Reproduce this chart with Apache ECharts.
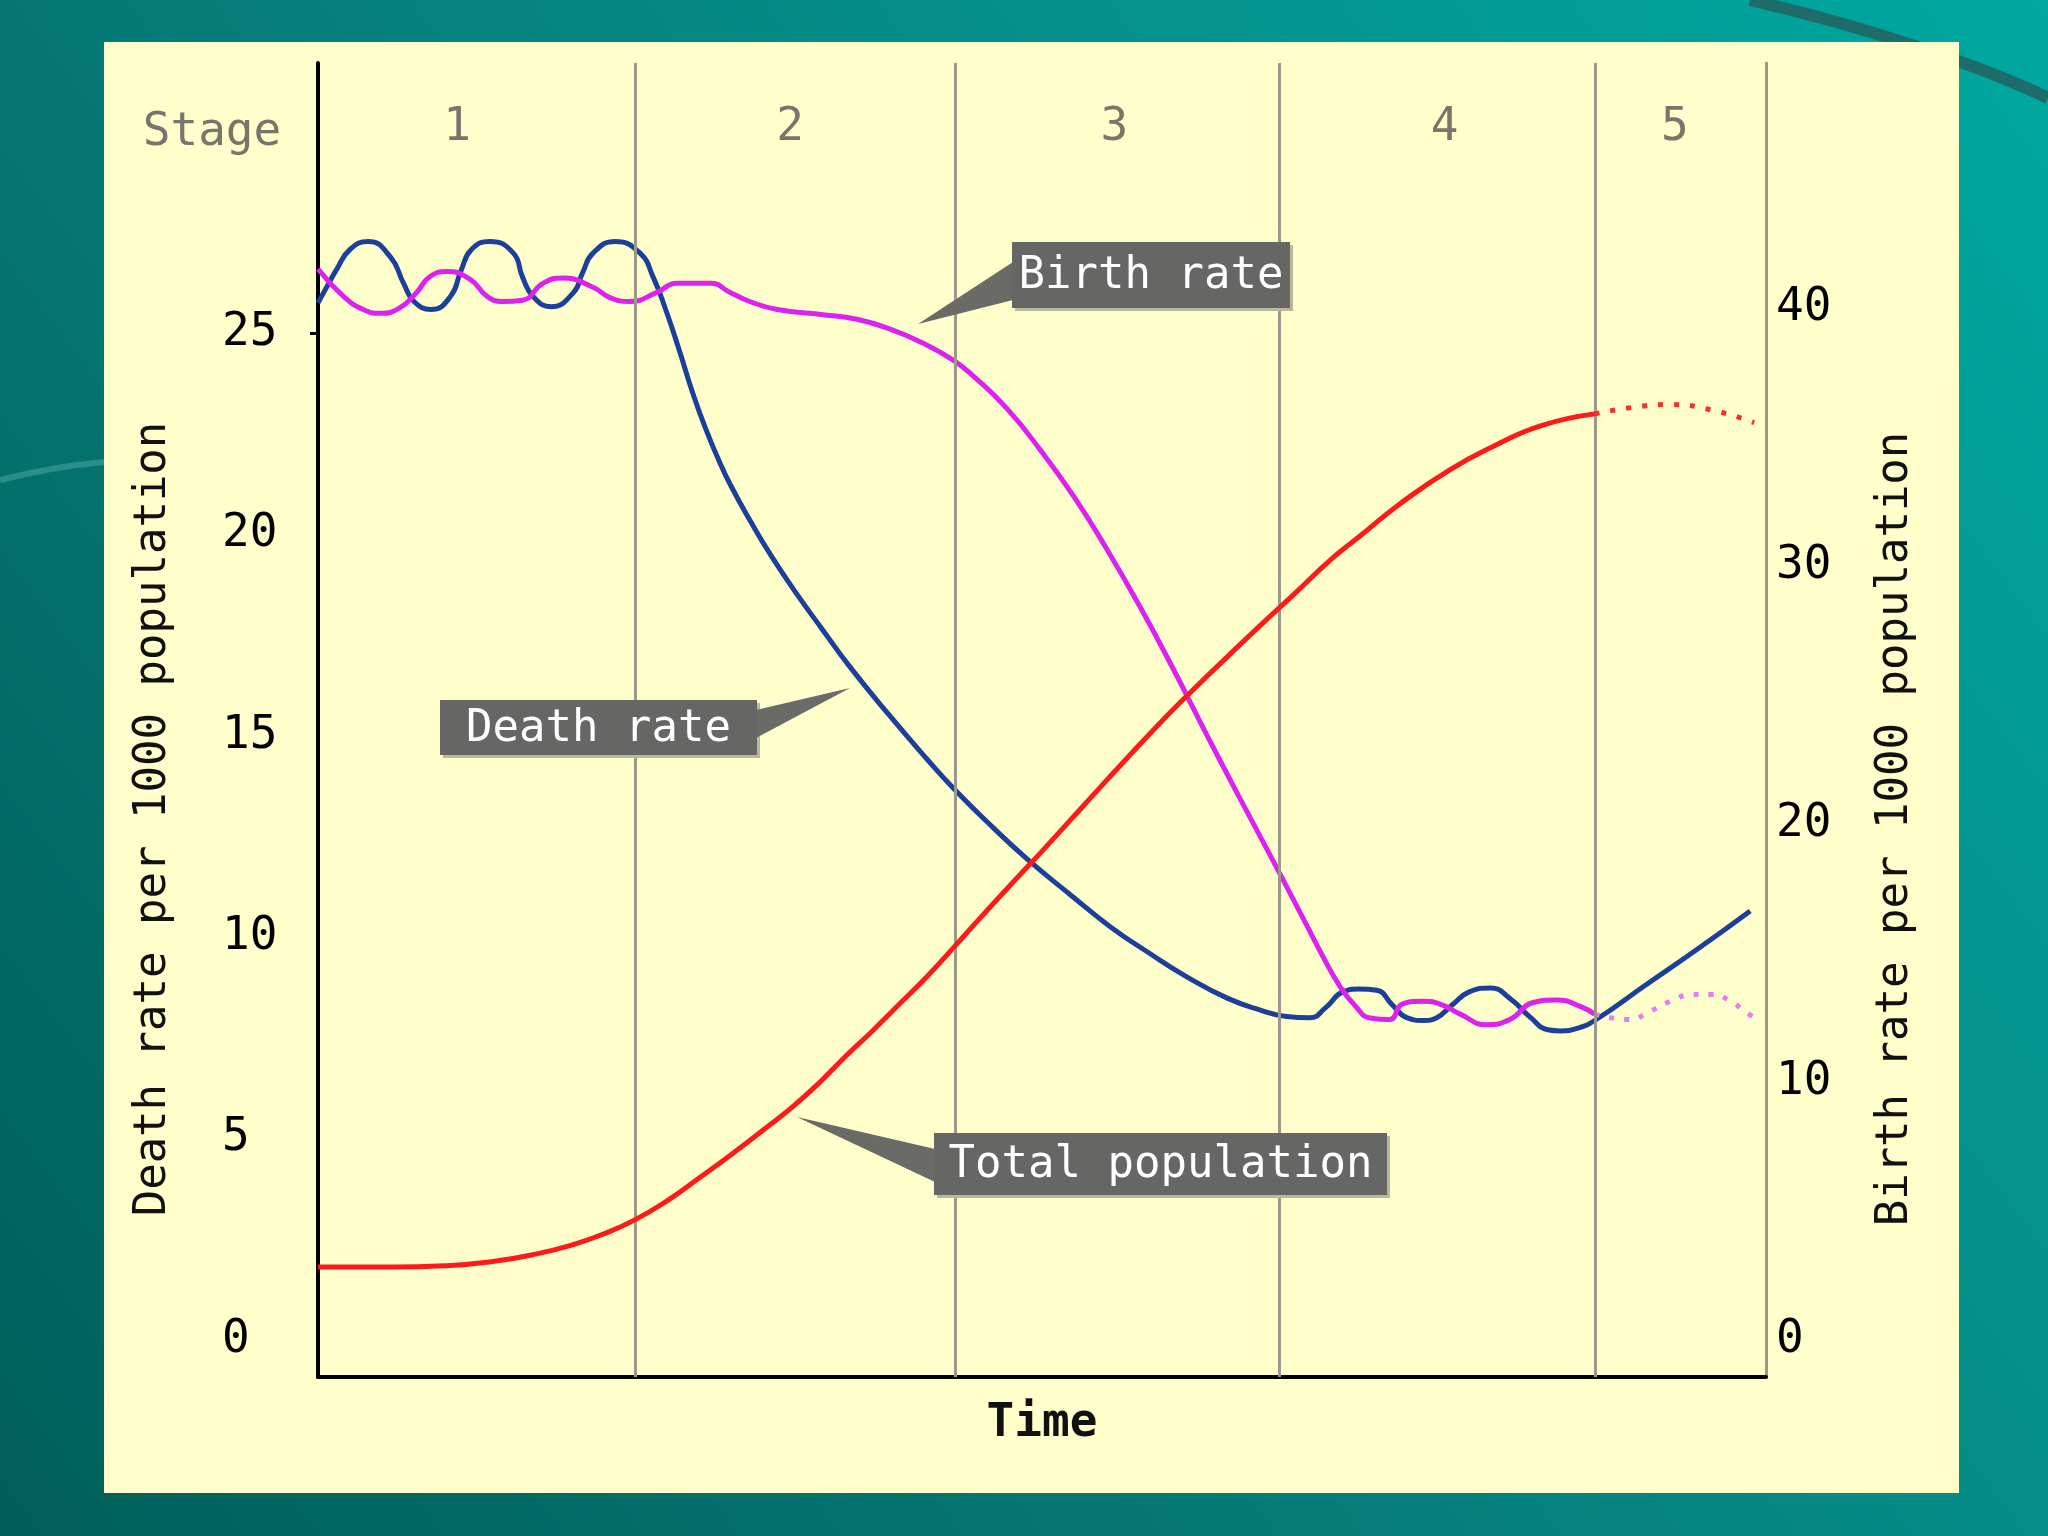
<!DOCTYPE html>
<html>
<head>
<meta charset="utf-8">
<title>Demographic transition model</title>
<script src="https://cdn.jsdelivr.net/npm/echarts@6.0.0/dist/echarts.min.js"></script>
<style>
  html, body { margin: 0; padding: 0; }
  #chart { width: 2048px; height: 1536px; }
</style>
</head>
<body>
<div id="chart"></div>
<script>
// time runs 0..100 across the five stages
var stageBounds = [21.9, 44.0, 66.4, 88.2];
var stageLabelPos = [9.6, 32.6, 55.0, 77.8, 93.7];
var stageNames = ['1', '2', '3', '4', '5'];
var deathTicks = [0, 5, 10, 15, 20, 25];
var birthTicks = [0, 10, 20, 30, 40];

// death rate (left axis)
var deathTime = [0, 0.59, 1.31, 2.21, 3.48, 5.01, 5.91, 6.63, 7.81, 9.16, 9.88, 10.6, 11.87, 13.49, 14.12,
    14.84, 16.1, 17.64, 18.27, 18.99, 20.52, 22.24, 23.14, 24.04, 24.94, 25.85, 26.75, 27.65, 28.55, 29.91,
    31.26, 33.06, 34.87, 36.67, 39.38, 42.08, 43.98, 46.59, 48.94, 52.0, 54.71, 57.42, 60.12, 62.83, 65.08,
    66.89, 68.51, 69.59, 70.77, 71.85, 73.11, 74.19, 75.19, 76.36, 77.26, 78.34, 79.51, 80.96, 82.4, 83.75,
    84.93, 85.83, 87.0, 88.17, 91.69, 95.3, 98.91];
var deathRate = [25.75, 26.13, 26.59, 27.07, 27.27, 26.88, 26.23, 25.78, 25.58, 25.91, 26.55, 27.07, 27.27, 26.98, 26.39,
    25.91, 25.65, 26.0, 26.49, 26.98, 27.27, 26.98, 26.39, 25.55, 24.58, 23.54, 22.64, 21.86, 21.18, 20.3,
    19.49, 18.52, 17.62, 16.74, 15.54, 14.41, 13.66, 12.73, 11.95, 11.04, 10.26, 9.6, 8.99, 8.48, 8.19,
    8.03, 8.0, 8.25, 8.64, 8.71, 8.68, 8.32, 8.0, 7.93, 8.0, 8.32, 8.64, 8.74, 8.45, 8.0,
    7.7, 7.67, 7.74, 7.93, 8.81, 9.71, 10.65];

// birth rate (right axis)
var birthTime = [0, 1.76, 3.12, 4.29, 5.64, 6.81, 7.72, 8.89, 10.51, 11.68, 12.77, 14.12, 15.56, 16.92, 18.99,
    20.16, 21.52, 23.41, 24.76, 27.11, 28.46, 29.81, 31.71, 34.87, 37.21, 39.47, 41.81, 43.89, 45.24, 47.58,
    49.84, 52.18, 54.44, 56.78, 59.04, 61.38, 63.64, 65.99, 68.33, 69.41, 70.59, 71.58, 72.66, 74.01, 74.91,
    76.27, 77.44, 78.88, 80.69, 82.31, 83.93, 85.56, 87.17, 88.17];
var birthRate = [41.5, 40.44, 39.93, 39.78, 39.99, 40.59, 41.2, 41.4, 41.1, 40.44, 40.24, 40.29, 40.95, 41.15, 40.79,
    40.39, 40.24, 40.59, 40.95, 40.95, 40.59, 40.24, 39.93, 39.73, 39.55, 39.18, 38.62, 37.96, 37.36, 36.09,
    34.52, 32.7, 30.68, 28.4, 26.03, 23.45, 21.02, 18.54, 16.02, 14.85, 13.69, 12.98, 12.48, 12.42, 13.03,
    13.13, 13.03, 12.63, 12.22, 12.42, 13.08, 13.18, 12.93, 12.63];
var birthProjTime = [88.17, 90.61, 91.96, 93.41, 94.94, 96.29, 97.55, 98.55, 99.54];
var birthProjRate = [12.63, 12.42, 12.73, 13.13, 13.39, 13.39, 13.13, 12.73, 12.37];

// total population (relative, drawn on left scale)
var popTime = [0, 5.1, 8.71, 11.96, 15.02, 17.73, 19.71, 21.88, 24.13, 26.39, 28.64, 30.99, 32.79, 34.69, 36.49,
    38.29, 40.19, 42.08, 43.89, 45.69, 47.76, 50.2, 52.91, 55.61, 58.32, 60.21, 62.83, 65.08, 67.34, 70.04,
    71.94, 74.73, 78.16, 81.32, 84.48, 88.17];
var popValue = [1.81, 1.81, 1.84, 1.94, 2.13, 2.38, 2.63, 2.98, 3.46, 4.04, 4.63, 5.28, 5.79, 6.41, 7.06,
    7.67, 8.35, 9.03, 9.74, 10.46, 11.27, 12.21, 13.28, 14.34, 15.38, 16.06, 16.97, 17.74, 18.49, 19.4,
    19.95, 20.76, 21.6, 22.21, 22.7, 22.99];
var popProjTime = [88.17, 90.79, 93.23, 96.2, 99.18];
var popProjValue = [22.99, 23.15, 23.22, 23.09, 22.77];

function zip(xs, ys) {
    return xs.map(function (x, i) { return [x, ys[i]]; });
}

var FONT = '"DejaVu Sans Mono", monospace';

function callout(x, y, w, h, text, pointer) {
    return {
        type: 'group',
        z: 100,
        children: [
            { type: 'polygon', shape: { points: pointer }, style: { fill: '#6a6a66' }, z: 100 },
            { type: 'rect', shape: { x: x + 3, y: y + 3, width: w, height: h }, style: { fill: '#b9b89a' }, z: 99 },
            { type: 'rect', shape: { x: x, y: y, width: w, height: h }, style: { fill: '#666664' }, z: 101 },
            {
                type: 'text', z: 102,
                style: {
                    x: x + w / 2, y: y + h / 2 + 2, text: text, fill: '#ffffff',
                    font: '44px ' + FONT, align: 'center', verticalAlign: 'middle'
                }
            }
        ]
    };
}

function lineSeries(name, axis, data, style, z) {
    return {
        name: name, type: 'line', xAxisIndex: 0, yAxisIndex: axis, data: data,
        smooth: 0.5, showSymbol: false, lineStyle: style, z: z
    };
}

var chart = echarts.init(document.getElementById('chart'));

var deathSeries = lineSeries('Death rate', 0, zip(deathTime, deathRate), { color: '#1c3f99', width: 5 }, 3);
deathSeries.markLine = {
    silent: true, symbol: ['none', 'none'], label: { show: false },
    lineStyle: { color: '#9b9a8a', width: 3, type: 'solid' },
    data: stageBounds.map(function (b) { return { xAxis: b }; })
};

chart.setOption({
    animation: false,
    backgroundColor: {
        type: 'linear', x: 0, y: 1, x2: 1, y2: 0,
        colorStops: [{ offset: 0, color: '#005e5a' }, { offset: 0.5, color: '#07827d' }, { offset: 1, color: '#00a8a1' }]
    },
    graphic: [
        { type: 'rect', z: -10, shape: { x: 104, y: 42, width: 1855, height: 1451 }, style: { fill: '#ffffcc' } },
        {
            type: 'bezierCurve', z: -11,
            shape: { x1: 1750, y1: 0, x2: 2048, y2: 98, cpx1: 1880, cpy1: 30, cpx2: 1990, cpy2: 70 },
            style: { stroke: '#1e6c69', lineWidth: 12, fill: null }
        },
        {
            type: 'bezierCurve', z: -11,
            shape: { x1: 0, y1: 480, x2: 104, y2: 462, cpx1: 40, cpy1: 470, cpx2: 70, cpy2: 465 },
            style: { stroke: '#2a8f8a', lineWidth: 6, fill: null }
        },
        {
            type: 'text', z: 5,
            style: { x: 212, y: 133, text: 'Stage', fill: '#76766a', font: '46px ' + FONT, align: 'center', verticalAlign: 'middle' }
        },
        {
            type: 'text', z: 5, x: 154, y: 819, rotation: Math.PI / 2,
            style: { x: 0, y: 0, text: 'Death rate per 1000 population', fill: '#111111', font: '44px ' + FONT, align: 'center', verticalAlign: 'middle' }
        },
        {
            type: 'text', z: 5, x: 1896, y: 829, rotation: Math.PI / 2,
            style: { x: 0, y: 0, text: 'Birth rate per 1000 population', fill: '#111111', font: '44px ' + FONT, align: 'center', verticalAlign: 'middle' }
        },
        callout(1012, 242, 278, 66, 'Birth rate', [[1013, 262], [1013, 300], [918, 324]]),
        callout(440, 700, 317, 55, 'Death rate', [[756, 710], [756, 738], [850, 688]]),
        callout(934, 1133, 453, 62, 'Total population', [[935, 1149], [935, 1182], [797, 1117]])
    ],
    grid: { left: 318, right: 282, top: 63, bottom: 159 },
    xAxis: [
        {
            type: 'value', min: 0, max: 100, position: 'bottom',
            axisLine: { onZero: false, lineStyle: { color: '#000000', width: 4 } },
            axisTick: { show: false }, axisLabel: { show: false }, splitLine: { show: false },
            name: 'Time', nameLocation: 'middle', nameGap: 24,
            nameTextStyle: { color: '#111111', fontSize: 46, fontFamily: FONT, fontWeight: 'bold' }
        },
        {
            type: 'value', min: 0, max: 100, position: 'top',
            axisLine: { show: false }, axisTick: { show: false }, splitLine: { show: false },
            axisLabel: {
                inside: true, margin: 65, verticalAlign: 'middle',
                customValues: stageLabelPos,
                formatter: function (v) {
                    var best = 0;
                    stageLabelPos.forEach(function (p, i) { if (Math.abs(p - v) < Math.abs(stageLabelPos[best] - v)) best = i; });
                    return stageNames[best];
                },
                color: '#76766a', fontSize: 46, fontFamily: FONT
            }
        }
    ],
    yAxis: [
        {
            type: 'value', position: 'left', min: -0.92, max: 31.7,
            axisLine: { show: true, onZero: false, lineStyle: { color: '#000000', width: 4 } },
            axisTick: { show: true, customValues: [25], length: 8, lineStyle: { color: '#000000', width: 3 } },
            axisLabel: { customValues: deathTicks, align: 'left', margin: 96, color: '#000000', fontSize: 46, fontFamily: FONT },
            splitLine: { show: false }
        },
        {
            type: 'value', position: 'right', min: -1.43, max: 49.48,
            axisLine: { show: true, onZero: false, lineStyle: { color: '#9b9a8a', width: 3 } },
            axisTick: { show: false },
            axisLabel: { customValues: birthTicks, align: 'left', margin: 10, color: '#000000', fontSize: 46, fontFamily: FONT },
            splitLine: { show: false }
        }
    ],
    series: [
        deathSeries,
        lineSeries('Birth rate', 1, zip(birthTime, birthRate), { color: '#dd22ee', width: 5 }, 4),
        lineSeries('Birth rate (projected)', 1, zip(birthProjTime, birthProjRate), { color: '#e77ef0', width: 5, type: [5, 10] }, 4),
        lineSeries('Total population', 0, zip(popTime, popValue), { color: '#ff1a1a', width: 5 }, 5),
        lineSeries('Total population (projected)', 0, zip(popProjTime, popProjValue), { color: '#ff2a2a', width: 5, type: [5, 11] }, 5)
    ]
});
</script>
</body>
</html>
